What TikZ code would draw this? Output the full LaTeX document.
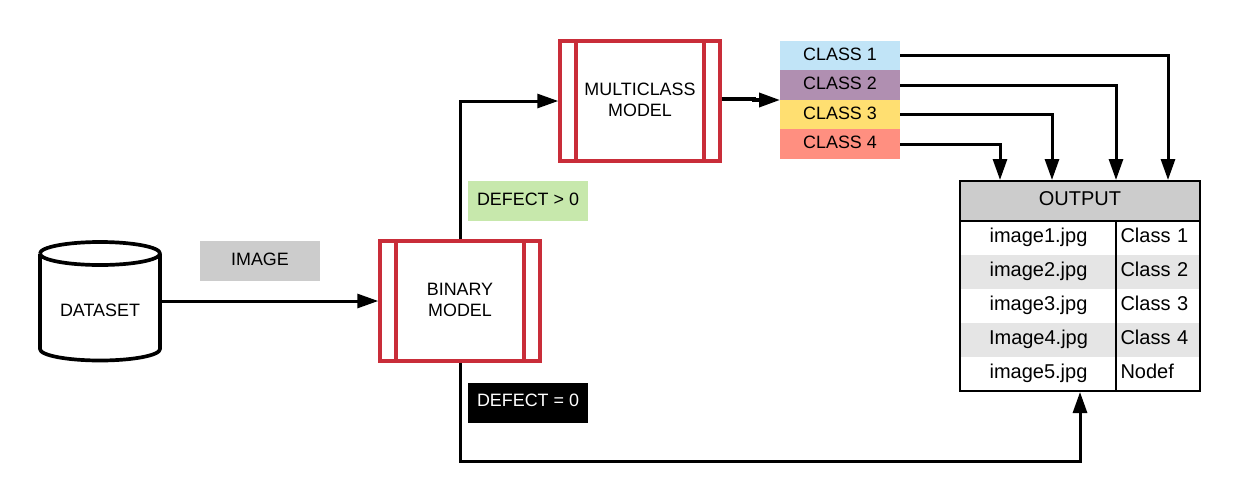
\documentclass[tikz,border=0pt]{standalone}
\usepackage{fontspec}
\setmainfont{Liberation Sans}
\usetikzlibrary{arrows.meta,calc}
\definecolor{modelred}{HTML}{C92D39}
\definecolor{boxgrey}{HTML}{CCCCCC}
\definecolor{rowgrey}{HTML}{E5E5E5}
\definecolor{defgreen}{HTML}{C7E8AC}
\definecolor{classa}{HTML}{C1E4F7}
\definecolor{classb}{HTML}{B08FB1}
\definecolor{classc}{HTML}{FFDF71}
\definecolor{classd}{HTML}{FF8F80}
\tikzset{
  every node/.style={font=\fontsize{17.9}{21.3}\selectfont,inner sep=0pt,outer sep=0pt},
  tablefont/.style={font=\fontsize{20}{24}\selectfont},
  conn/.style={draw=black,line width=3pt,line join=miter,-{Triangle[length=21pt,width=14pt]}},
  model/.style={draw=modelred,line width=3.5pt,outer sep=1.75pt,fill=white,minimum width=160pt,minimum height=120pt,align=center},
  modelline/.style={draw=modelred,line width=3.5pt},
  flat/.style={minimum width=#1,minimum height=40pt},
  bl/.style={text height=#1,text depth=2pt},
  classbox/.style={minimum width=120pt,fill=#1},
  row/.style={minimum height=34pt,tablefont},
  namecell/.style={row,minimum width=155pt},
  valuecell/.style={row,minimum width=84pt,text width=75pt,align=left},
  greyrow/.style={fill=rowgrey},
  dbline/.style={draw=black,line width=3.7pt,line join=round},
}
\begin{document}
\begin{tikzpicture}[x=1pt,y=-1pt]
\useasboundingbox (0,0) rectangle (1240,501);
% dataset
\node (dataset) [minimum width=120pt,minimum height=118pt,outer sep=1.75pt] at (100,301) {};
\draw[dbline] (40,253.5) arc[start angle=180,end angle=540,x radius=60,y radius=11.5]
  (40,253.5) -- (40,349) arc[start angle=180,end angle=360,x radius=60,y radius=-11.5] -- (160,253.5);
\node (datasetlabel) [bl=10pt] at (100,312.5) {DATASET};
% labels
\node (imagelabel) [flat=120pt,fill=boxgrey,bl=10pt] at (260,261) {IMAGE};
\node (defpos) [flat=120pt,fill=defgreen,bl=10pt] at (528,201) {DEFECT > 0};
\node (defzero) [flat=120pt,fill=black,text=white,bl=9.4pt] at (528,403) {DEFECT = 0};
% models
\node (binary) [model] at (460,301) {BINARY\\MODEL\rule[-3pt]{0pt}{3pt}};
\node (multi) [model] at (640,101) {MULTICLASS\\MODEL\rule[-3pt]{0pt}{3pt}};
\foreach \m in {binary,multi}{
  \draw[modelline] ([xshift=17.75pt]\m.north west) -- ([xshift=17.75pt]\m.south west);
  \draw[modelline] ([xshift=-17.75pt]\m.north east) -- ([xshift=-17.75pt]\m.south east);
}
% classes
\node (ca) [classbox=classa,minimum height=29pt,bl=12.4pt] at (840,55.5) {CLASS 1};
\node (cb) [classbox=classb,minimum height=30pt,bl=10.6pt] at (840,85) {CLASS 2};
\node (cc) [classbox=classc,minimum height=29pt,bl=11.6pt] at (840,114.5) {CLASS 3};
\node (cd) [classbox=classd,minimum height=30pt,bl=10.6pt] at (840,144) {CLASS 4};
% output table
\node (outhead) [minimum width=240pt,minimum height=40pt,fill=boxgrey,bl=10pt,tablefont] at (1080,201) {OUTPUT};
\node (na) [namecell,bl=10pt] at (1038.5,238) {image1.jpg};
\node (nb) [namecell,greyrow,bl=10pt] at (1038.5,272) {image2.jpg};
\node (nc) [namecell,bl=10pt] at (1038.5,306) {image3.jpg};
\node (nd) [namecell,greyrow,bl=10pt] at (1038.5,340) {Image4.jpg};
\node (ne) [namecell,bl=10pt] at (1038.5,374) {image5.jpg};
\node (va) [valuecell,bl=10pt] at (1158,238) {Class 1};
\node (vb) [valuecell,greyrow,bl=10pt] at (1158,272) {Class 2};
\node (vc) [valuecell,bl=10pt] at (1158,306) {Class 3};
\node (vd) [valuecell,greyrow,bl=10pt] at (1158,340) {Class 4};
\node (ve) [valuecell,bl=10pt] at (1158,374) {Nodef};
\node (output) [draw=black,line width=2pt,outer sep=1pt,minimum width=240pt,minimum height=210pt] at (1080,286) {};
\draw[line width=2pt] (outhead.south west) -- (outhead.south east);
\draw[line width=2pt] (1116,221) -- (1116,391);
% connectors
\coordinate (low) at (460,461);
\draw[conn] (dataset.east) -- (binary.west);
\draw[conn] (binary.north) |- (multi.west);
\draw[conn] (binary.south) -- (low) -| (output.south);
\draw[conn,line width=3.6pt] ([yshift=2pt]multi.east) -- ++(32,0) -- ++(0,1) -- (cb.south west);
\draw[conn] (ca.east) -| ([xshift=88pt]output.north);
\draw[conn] (cb.east) -| ([xshift=36pt]output.north);
\draw[conn] (cc.east) -| ([xshift=-28pt]output.north);
\draw[conn] (cd.east) -| ([xshift=-80pt]output.north);
\end{tikzpicture}
\end{document}
